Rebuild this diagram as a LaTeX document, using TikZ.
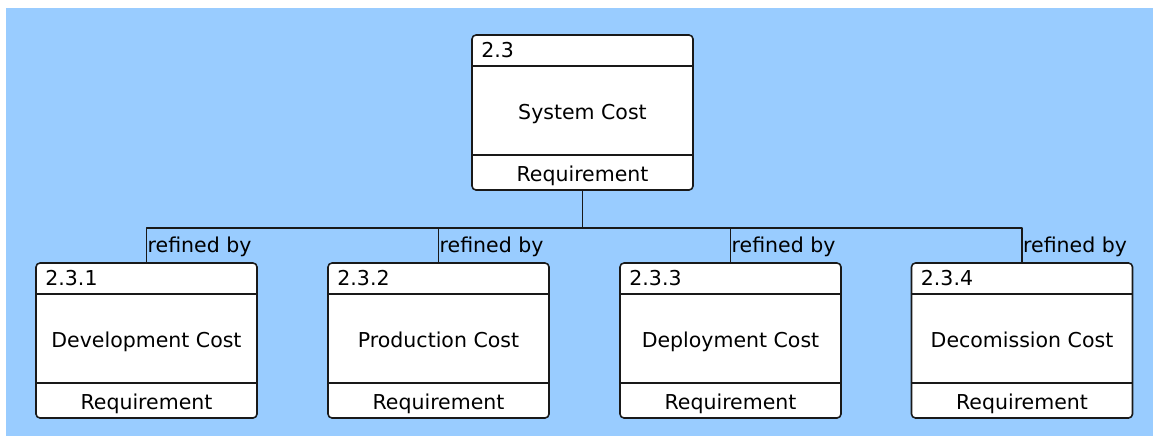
\documentclass[tikz,border=0pt]{standalone}
\usepackage{fontspec}
\setmainfont{DejaVu Sans}
\usetikzlibrary{positioning}
\definecolor{diagblue}{RGB}{153,204,255}
\definecolor{boxline}{RGB}{25,25,25}

\tikzset{
  req/.style={draw=boxline, fill=white, line width=1.6pt, rounded corners=4pt,
    minimum width=221pt, minimum height=155pt, inner sep=0pt},
  part/.style={draw=boxline, line width=1.6pt},
  lbl/.style={font=\fontsize{20.5}{24}\selectfont, inner sep=0pt},
  link/.style={draw=boxline, line width=1.6pt},
}

\begin{document}
\begin{tikzpicture}[x=1pt,y=-1pt,line join=round]
  \useasboundingbox (0,0) rectangle (1153,436);
  \fill[diagblue] (6,8) rectangle (1153,436);
  % parent requirement
  \node[req] (sys) at (582.5,112.5) {};
  \draw[part] ([yshift=-32pt]sys.north west) -- ([yshift=-32pt]sys.north east);
  \draw[part] ([yshift=36pt]sys.south west) -- ([yshift=36pt]sys.south east);
  \node[lbl, anchor=base west] (sysnum) at ([xshift=10pt,yshift=-23pt]sys.north west) {2.3};
  \node[lbl, anchor=base] (systitle) at ([yshift=-6.5pt]sys.center) {System Cost};
  \node[lbl, anchor=base] (systype) at ([yshift=9pt]sys.south) {Requirement};
  \draw[link] (sys.south) -- ++(0,37) coordinate (bus);
  % refining requirements
  \foreach \i/\x/\name in {1/146.5/Development Cost, 2/438.5/Production Cost,
                           3/730.5/Deployment Cost, 4/1022/Decomission Cost} {
    \node[req] (req\i) at (\x,340.5) {};
    \draw[part] ([yshift=-32pt]req\i.north west) -- ([yshift=-32pt]req\i.north east);
    \draw[part] ([yshift=36pt]req\i.south west) -- ([yshift=36pt]req\i.south east);
    \node[lbl, anchor=base west] (num\i) at ([xshift=10pt,yshift=-23pt]req\i.north west) {2.3.\i};
    \node[lbl, anchor=base] (title\i) at ([yshift=-6.5pt]req\i.center) {\name};
    \node[lbl, anchor=base] (type\i) at ([yshift=9pt]req\i.south) {Requirement};
    \draw[link] (bus) -| (req\i.north);
    \node[lbl, anchor=base west] (ref\i) at ([xshift=1pt,yshift=10pt]req\i.north) {refined by};
  }
\end{tikzpicture}
\end{document}
